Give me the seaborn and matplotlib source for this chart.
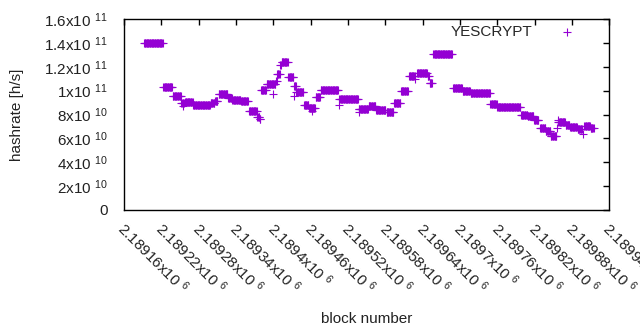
import numpy as np
import pandas as pd
import seaborn as sns
import matplotlib
matplotlib.use('Agg')
import matplotlib.pyplot as plt
import matplotlib.transforms as mtransforms

# blocks where the hashrate sits on one value (first block, last block, rate in 1e10 h/s)
base_block = 2189160
run_first = [32, 63, 78, 92, 98, 111, 139, 146, 152, 167, 174, 188, 201, 214, 218,
             220, 229, 244, 246, 251, 253, 264, 273, 277, 289, 297, 308, 316, 346, 377,
             393, 405, 422, 434, 445, 458, 471, 488, 491, 497, 529, 544, 557, 571, 589,
             600, 617, 638, 649, 659, 669, 678, 686, 698, 710, 717, 729, 740, 750]
run_last = [62, 77, 91, 96, 110, 138, 145, 150, 166, 173, 187, 199, 213, 217, 219,
            228, 243, 245, 250, 252, 263, 272, 276, 288, 296, 307, 315, 344, 376, 392,
            404, 420, 433, 444, 456, 467, 487, 490, 495, 527, 543, 556, 570, 588, 599,
            616, 637, 648, 658, 666, 677, 685, 695, 709, 716, 728, 736, 749, 755]
run_rate = [13.96, 10.28, 9.52, 8.94, 9.05, 8.77, 8.94, 9.15, 9.69, 9.41, 9.24, 9.13, 8.29, 7.81, 7.64,
            10.05, 10.53, 10.77, 11.39, 12.14, 12.42, 11.11, 10.39, 9.86, 8.79, 8.57, 9.49, 10.03, 9.30, 8.46,
            8.71, 8.38, 8.17, 9.00, 9.94, 11.26, 11.52, 11.22, 10.61, 13.04, 10.19, 9.99, 9.84, 9.77, 8.88,
            8.67, 8.60, 8.00, 7.87, 7.54, 6.88, 6.59, 6.20, 7.40, 7.12, 6.93, 6.76, 7.06, 6.84]

# single stray points
lone_block = [95, 240, 273, 302, 345, 378, 468, 696, 697, 738]
lone_rate = [8.71, 9.69, 9.57, 8.32, 8.79, 8.23, 10.97, 6.84, 7.50, 6.34]

x_ticks = [2189160 + 60 * i for i in range(14)]
y_ticks = [0, 2e10, 4e10, 6e10, 8e10, 1e11, 1.2e11, 1.4e11, 1.6e11]
y_ticklabels = ['0', '2x10 $^{10}$', '4x10 $^{10}$', '6x10 $^{10}$', '8x10 $^{10}$',
                '1x10 $^{11}$', '1.2x10 $^{11}$', '1.4x10 $^{11}$', '1.6x10 $^{11}$']

blocks = []
rates = []
for f, l, r in zip(run_first, run_last, run_rate):
    n = l - f + 1
    blocks += list(base_block + np.arange(f, l + 1))
    rates += [r * 1e10] * n
blocks += [base_block + b for b in lone_block]
rates += [r * 1e10 for r in lone_rate]
df = pd.DataFrame({'block': blocks, 'hashrate': rates})

sns.set_theme(style='white')
plt.rcParams['font.family'] = ['Liberation Sans', 'DejaVu Sans']
plt.rcParams['mathtext.fontset'] = 'custom'
plt.rcParams['mathtext.rm'] = 'Liberation Sans'
plt.rcParams['mathtext.it'] = 'Liberation Sans:italic'
plt.rcParams['font.size'] = 11

fig, ax = plt.subplots(figsize=(6.4, 3.3), dpi=100)
fig.subplots_adjust(left=0.194, right=0.952, bottom=0.364, top=0.942)

sns.scatterplot(data=df, x='block', y='hashrate', marker='+', color='#9400D3',
                s=26, linewidth=0.8, label='YESCRYPT', ax=ax, legend=False)

ax.set_xlim(2189160, 2189940)
ax.set_ylim(0, 1.6e11)
ax.set_yticks(y_ticks)
ax.set_yticklabels(y_ticklabels, fontsize=11)
ax.set_xticks(x_ticks)
ax.set_xticklabels([f'{v / 1e6:g}x10 $^{{6}}$' for v in x_ticks], fontsize=11,
                   rotation=-45, ha='left', va='baseline', rotation_mode='anchor')
ax.tick_params(direction='in', length=4, width=1, color='black', top=True, right=True,
               labelcolor='#222222')
ax.tick_params(axis='y', pad=12)
ax.tick_params(axis='x', pad=14.5)
# gnuplot puts the rotated label start a little left of the tick
shift = mtransforms.ScaledTranslation(-0.077, 0, fig.dpi_scale_trans)
for lab in ax.get_xticklabels():
    lab.set_transform(lab.get_transform() + shift)
for s in ax.spines.values():
    s.set_color('black')
    s.set_linewidth(1)

ax.set_xlabel('block number', fontsize=11, color='#222222')
ax.set_ylabel('hashrate [h/s]', fontsize=11, color='#222222')
ax.xaxis.set_label_coords(0.5, -0.534)
ax.xaxis.label.set_va('top')
ax.yaxis.set_label_coords(-0.206, 0.5)

ax.legend(loc='center right', bbox_to_anchor=(0.945, 0.932), frameon=False,
          markerfirst=False, handlelength=2, handletextpad=1.3, borderpad=0,
          borderaxespad=0, fontsize=11, scatterpoints=1)

plt.savefig('out.png', dpi=100)
